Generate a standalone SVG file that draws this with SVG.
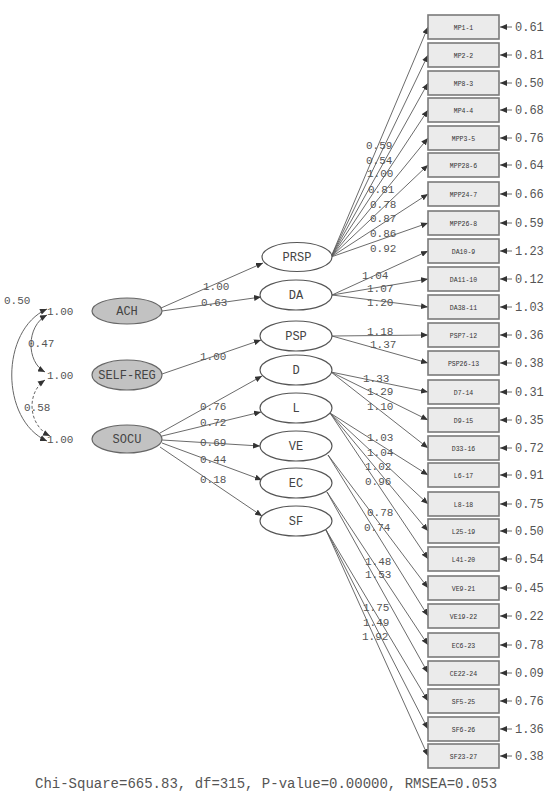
<svg xmlns="http://www.w3.org/2000/svg" width="554" height="794" viewBox="0 0 554 794">
<style>
.box{fill:#ebebeb;stroke:#7a7a7a;stroke-width:1.6}
.bt{font-family:"Liberation Mono",monospace;font-size:6.5px;fill:#333;text-anchor:middle}
.lbl{font-family:"Liberation Mono",monospace;font-size:11px;fill:#555}
.err{font-family:"Liberation Mono",monospace;font-size:12px;fill:#555}
.ell{fill:#fff;stroke:#555;stroke-width:1.2}
.ex{fill:#c2c2c2;stroke:#666;stroke-width:1.2}
.et{font-family:"Liberation Mono",monospace;font-size:12px;fill:#444;text-anchor:middle}
.c{fill:none;stroke:#5a5a5a;stroke-width:0.9}
.cv{fill:none;stroke:#666;stroke-width:1}
</style>
<defs>
<marker id="ah" markerUnits="userSpaceOnUse" markerWidth="8" markerHeight="6" refX="7" refY="3" orient="auto"><path d="M0,0 L7,3 L0,6 Z" fill="#333"/></marker>
<marker id="ahs" markerUnits="userSpaceOnUse" markerWidth="8" markerHeight="6" refX="0" refY="3" orient="auto"><path d="M7,0 L0,3 L7,6 Z" fill="#333"/></marker>
</defs>
<rect width="554" height="794" fill="#fff"/>

<g id="connectors">
<path class="c" marker-end="url(#ah)" d="M331,257 L428,27"/>
<path class="c" marker-end="url(#ah)" d="M331,257 L428,55"/>
<path class="c" marker-end="url(#ah)" d="M331,257 L428,83"/>
<path class="c" marker-end="url(#ah)" d="M331,257 L428,110"/>
<path class="c" marker-end="url(#ah)" d="M331,257 L428,138"/>
<path class="c" marker-end="url(#ah)" d="M331,257 L428,165"/>
<path class="c" marker-end="url(#ah)" d="M331,257 L428,194"/>
<path class="c" marker-end="url(#ah)" d="M331,257 L428,223"/>
<path class="c" marker-end="url(#ah)" d="M332,295 L428,251"/>
<path class="c" marker-end="url(#ah)" d="M332,295 L428,279"/>
<path class="c" marker-end="url(#ah)" d="M332,295 L428,307"/>
<path class="c" marker-end="url(#ah)" d="M332,336 L428,335"/>
<path class="c" marker-end="url(#ah)" d="M332,336 L428,363"/>
<path class="c" marker-end="url(#ah)" d="M331,372 L428,392"/>
<path class="c" marker-end="url(#ah)" d="M331,372 L428,420"/>
<path class="c" marker-end="url(#ah)" d="M331,372 L428,448"/>
<path class="c" marker-end="url(#ah)" d="M330,413 L428,475"/>
<path class="c" marker-end="url(#ah)" d="M330,413 L428,504"/>
<path class="c" marker-end="url(#ah)" d="M330,413 L428,531"/>
<path class="c" marker-end="url(#ah)" d="M330,413 L428,559"/>
<path class="c" marker-end="url(#ah)" d="M328,455 L428,588"/>
<path class="c" marker-end="url(#ah)" d="M328,455 L428,616"/>
<path class="c" marker-end="url(#ah)" d="M327,492 L428,645"/>
<path class="c" marker-end="url(#ah)" d="M327,492 L428,673"/>
<path class="c" marker-end="url(#ah)" d="M326,530 L428,701"/>
<path class="c" marker-end="url(#ah)" d="M326,530 L428,729"/>
<path class="c" marker-end="url(#ah)" d="M326,530 L428,756"/>
<path class="c" marker-end="url(#ah)" d="M161,308 L263,263"/>
<path class="c" marker-end="url(#ah)" d="M162,311 L261,297"/>
<path class="c" marker-end="url(#ah)" d="M162,374 L261,340"/>
<path class="c" marker-end="url(#ah)" d="M160,433 L262,376"/>
<path class="c" marker-end="url(#ah)" d="M162,436 L261,412"/>
<path class="c" marker-end="url(#ah)" d="M162,440 L260,446"/>
<path class="c" marker-end="url(#ah)" d="M162,443 L262,480"/>
<path class="c" marker-end="url(#ah)" d="M160,447 L262,516"/>
<g class="c" marker-end="url(#ah)">
<path d="M512,27 L500,27"/><path d="M512,55 L500,55"/><path d="M512,83 L500,83"/><path d="M512,110 L500,110"/>
<path d="M512,138 L500,138"/><path d="M512,165 L500,165"/><path d="M512,194 L500,194"/><path d="M512,223 L500,223"/>
<path d="M512,251 L500,251"/><path d="M512,279 L500,279"/><path d="M512,307 L500,307"/><path d="M512,335 L500,335"/>
<path d="M512,363 L500,363"/><path d="M512,392 L500,392"/><path d="M512,420 L500,420"/><path d="M512,448 L500,448"/>
<path d="M512,475 L500,475"/><path d="M512,504 L500,504"/><path d="M512,531 L500,531"/><path d="M512,559 L500,559"/>
<path d="M512,588 L500,588"/><path d="M512,616 L500,616"/><path d="M512,645 L500,645"/><path d="M512,673 L500,673"/>
<path d="M512,701 L500,701"/><path d="M512,729 L500,729"/><path d="M512,756 L500,756"/>
</g>
<path class="cv" marker-start="url(#ahs)" marker-end="url(#ah)" d="M47,315 C26,326 26,362 45,372"/>
<path class="cv" stroke-dasharray="3,2" marker-start="url(#ahs)" marker-end="url(#ah)" d="M45,380 C26,393 28,425 50,436"/>
<path class="cv" marker-start="url(#ahs)" marker-end="url(#ah)" d="M47,309 C0,330 0,420 47,441"/>
</g>

<g id="loading-labels">
<text class="lbl" x="366" y="149">0.59</text>
<text class="lbl" x="366" y="164">0.54</text>
<text class="lbl" x="367" y="177">1.00</text>
<text class="lbl" x="368" y="193">0.81</text>
<text class="lbl" x="370" y="208">0.78</text>
<text class="lbl" x="370" y="222">0.87</text>
<text class="lbl" x="370" y="237">0.86</text>
<text class="lbl" x="370" y="252">0.92</text>
<text class="lbl" x="362" y="279">1.04</text>
<text class="lbl" x="367" y="292">1.07</text>
<text class="lbl" x="367" y="306">1.20</text>
<text class="lbl" x="367" y="335">1.18</text>
<text class="lbl" x="370" y="348">1.37</text>
<text class="lbl" x="363" y="382">1.33</text>
<text class="lbl" x="367" y="395">1.29</text>
<text class="lbl" x="367" y="410">1.10</text>
<text class="lbl" x="367" y="441">1.03</text>
<text class="lbl" x="367" y="456">1.04</text>
<text class="lbl" x="365" y="470">1.02</text>
<text class="lbl" x="365" y="485">0.96</text>
<text class="lbl" x="367" y="516">0.78</text>
<text class="lbl" x="364" y="531">0.74</text>
<text class="lbl" x="365" y="565">1.48</text>
<text class="lbl" x="365" y="578">1.53</text>
<text class="lbl" x="363" y="611">1.75</text>
<text class="lbl" x="363" y="626">1.49</text>
<text class="lbl" x="362" y="640">1.92</text>
<text class="lbl" x="203" y="290">1.00</text>
<text class="lbl" x="201" y="306">0.63</text>
<text class="lbl" x="200" y="360">1.00</text>
<text class="lbl" x="200" y="410">0.76</text>
<text class="lbl" x="200" y="426">0.72</text>
<text class="lbl" x="200" y="446">0.69</text>
<text class="lbl" x="200" y="463">0.44</text>
<text class="lbl" x="200" y="483">0.18</text>
<text class="lbl" x="47" y="315">1.00</text>
<text class="lbl" x="47" y="379">1.00</text>
<text class="lbl" x="47" y="443">1.00</text>
<text class="lbl" x="28" y="347">0.47</text>
<text class="lbl" x="24" y="411">0.58</text>
<text class="lbl" x="4" y="304">0.50</text>
</g>

<g id="ACH"><ellipse class="ex" cx="127" cy="311" rx="35" ry="13"/><text class="et" x="127" y="315">ACH</text></g>
<g id="SELF-REG"><ellipse class="ex" cx="127" cy="375" rx="35" ry="15"/><text class="et" x="127" y="379">SELF-REG</text></g>
<g id="SOCU"><ellipse class="ex" cx="127" cy="439" rx="35" ry="14"/><text class="et" x="127" y="443">SOCU</text></g>

<g id="PRSP"><ellipse class="ell" cx="297" cy="257" rx="35" ry="14.5"/><text class="et" x="297" y="261">PRSP</text></g>
<g id="DA"><ellipse class="ell" cx="296" cy="295" rx="36" ry="15"/><text class="et" x="296" y="299">DA</text></g>
<g id="PSP"><ellipse class="ell" cx="296" cy="336" rx="36" ry="15"/><text class="et" x="296" y="340">PSP</text></g>
<g id="D"><ellipse class="ell" cx="296" cy="370" rx="36" ry="15"/><text class="et" x="296" y="374">D</text></g>
<g id="L"><ellipse class="ell" cx="296" cy="408" rx="36" ry="15"/><text class="et" x="296" y="412">L</text></g>
<g id="VE"><ellipse class="ell" cx="296" cy="446" rx="36" ry="15"/><text class="et" x="296" y="450">VE</text></g>
<g id="EC"><ellipse class="ell" cx="296" cy="483" rx="36" ry="15"/><text class="et" x="296" y="487">EC</text></g>
<g id="SF"><ellipse class="ell" cx="296" cy="521" rx="36" ry="15"/><text class="et" x="296" y="525">SF</text></g>

<g id="MP1-1"><rect class="box" x="428" y="15" width="71" height="24"/><text class="bt" x="463.5" y="29.5">MP1-1</text><text class="err" x="515" y="31">0.61</text></g>
<g id="MP2-2"><rect class="box" x="428" y="43" width="71" height="24"/><text class="bt" x="463.5" y="57.5">MP2-2</text><text class="err" x="515" y="59">0.81</text></g>
<g id="MP8-3"><rect class="box" x="428" y="71" width="71" height="24"/><text class="bt" x="463.5" y="85.5">MP8-3</text><text class="err" x="515" y="87">0.50</text></g>
<g id="MP4-4"><rect class="box" x="428" y="98" width="71" height="24"/><text class="bt" x="463.5" y="112.5">MP4-4</text><text class="err" x="515" y="114">0.68</text></g>
<g id="MPP3-5"><rect class="box" x="428" y="126" width="71" height="24"/><text class="bt" x="463.5" y="140.5">MPP3-5</text><text class="err" x="515" y="142">0.76</text></g>
<g id="MPP28-6"><rect class="box" x="428" y="153" width="71" height="24"/><text class="bt" x="463.5" y="167.5">MPP28-6</text><text class="err" x="515" y="169">0.64</text></g>
<g id="MPP24-7"><rect class="box" x="428" y="182" width="71" height="24"/><text class="bt" x="463.5" y="196.5">MPP24-7</text><text class="err" x="515" y="198">0.66</text></g>
<g id="MPP26-8"><rect class="box" x="428" y="211" width="71" height="24"/><text class="bt" x="463.5" y="225.5">MPP26-8</text><text class="err" x="515" y="227">0.59</text></g>
<g id="DA10-9"><rect class="box" x="428" y="239" width="71" height="24"/><text class="bt" x="463.5" y="253.5">DA10-9</text><text class="err" x="515" y="255">1.23</text></g>
<g id="DA11-10"><rect class="box" x="428" y="267" width="71" height="24"/><text class="bt" x="463.5" y="281.5">DA11-10</text><text class="err" x="515" y="283">0.12</text></g>
<g id="DA38-11"><rect class="box" x="428" y="295" width="71" height="24"/><text class="bt" x="463.5" y="309.5">DA38-11</text><text class="err" x="515" y="311">1.03</text></g>
<g id="PSP7-12"><rect class="box" x="428" y="323" width="71" height="24"/><text class="bt" x="463.5" y="337.5">PSP7-12</text><text class="err" x="515" y="339">0.36</text></g>
<g id="PSP26-13"><rect class="box" x="428" y="351" width="71" height="24"/><text class="bt" x="463.5" y="365.5">PSP26-13</text><text class="err" x="515" y="367">0.38</text></g>
<g id="D7-14"><rect class="box" x="428" y="380" width="71" height="24"/><text class="bt" x="463.5" y="394.5">D7-14</text><text class="err" x="515" y="396">0.31</text></g>
<g id="D9-15"><rect class="box" x="428" y="408" width="71" height="24"/><text class="bt" x="463.5" y="422.5">D9-15</text><text class="err" x="515" y="424">0.35</text></g>
<g id="D33-16"><rect class="box" x="428" y="436" width="71" height="24"/><text class="bt" x="463.5" y="450.5">D33-16</text><text class="err" x="515" y="452">0.72</text></g>
<g id="L6-17"><rect class="box" x="428" y="463" width="71" height="24"/><text class="bt" x="463.5" y="477.5">L6-17</text><text class="err" x="515" y="479">0.91</text></g>
<g id="L8-18"><rect class="box" x="428" y="492" width="71" height="24"/><text class="bt" x="463.5" y="506.5">L8-18</text><text class="err" x="515" y="508">0.75</text></g>
<g id="L25-19"><rect class="box" x="428" y="519" width="71" height="24"/><text class="bt" x="463.5" y="533.5">L25-19</text><text class="err" x="515" y="535">0.50</text></g>
<g id="L41-20"><rect class="box" x="428" y="547" width="71" height="24"/><text class="bt" x="463.5" y="561.5">L41-20</text><text class="err" x="515" y="563">0.54</text></g>
<g id="VE9-21"><rect class="box" x="428" y="576" width="71" height="24"/><text class="bt" x="463.5" y="590.5">VE9-21</text><text class="err" x="515" y="592">0.45</text></g>
<g id="VE19-22"><rect class="box" x="428" y="604" width="71" height="24"/><text class="bt" x="463.5" y="618.5">VE19-22</text><text class="err" x="515" y="620">0.22</text></g>
<g id="EC6-23"><rect class="box" x="428" y="633" width="71" height="24"/><text class="bt" x="463.5" y="647.5">EC6-23</text><text class="err" x="515" y="649">0.78</text></g>
<g id="CE22-24"><rect class="box" x="428" y="661" width="71" height="24"/><text class="bt" x="463.5" y="675.5">CE22-24</text><text class="err" x="515" y="677">0.09</text></g>
<g id="SF5-25"><rect class="box" x="428" y="689" width="71" height="24"/><text class="bt" x="463.5" y="703.5">SF5-25</text><text class="err" x="515" y="705">0.76</text></g>
<g id="SF6-26"><rect class="box" x="428" y="717" width="71" height="24"/><text class="bt" x="463.5" y="731.5">SF6-26</text><text class="err" x="515" y="733">1.36</text></g>
<g id="SF23-27"><rect class="box" x="428" y="744" width="71" height="24"/><text class="bt" x="463.5" y="758.5">SF23-27</text><text class="err" x="515" y="760">0.38</text></g>

<text class="err" x="35" y="788" style="font-size:14px">Chi-Square=665.83, df=315, P-value=0.00000, RMSEA=0.053</text>
</svg>
